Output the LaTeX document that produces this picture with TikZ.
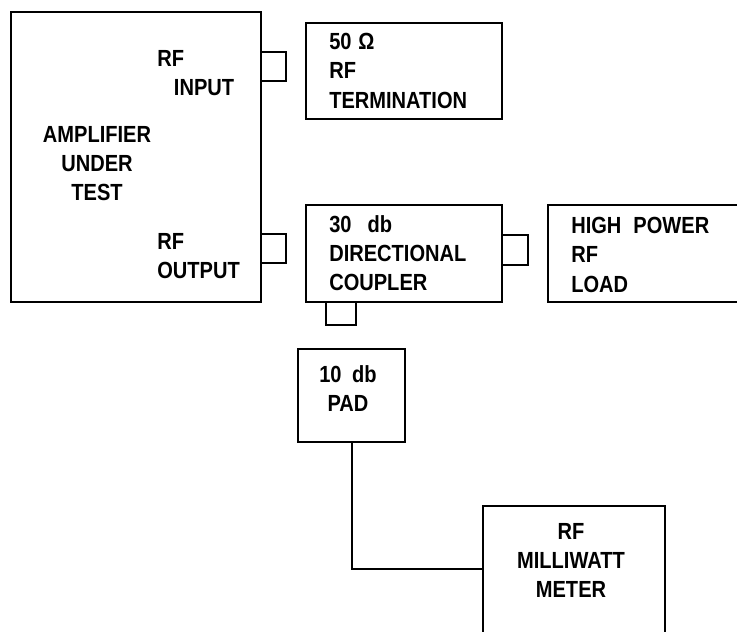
\documentclass[tikz,border=0pt]{standalone}
\usepackage{fontspec}
\setmainfont[FakeStretch=0.86]{Liberation Sans}
\usetikzlibrary{fit}
\begin{document}
\begin{tikzpicture}[x=0.75pt,y=-0.75pt,
  box/.style={draw,line width=1.5pt,inner sep=0pt},
  conn/.style={draw,line width=1.5pt,inner sep=0pt},
  lbl/.style={inner sep=0pt,font=\fontsize{17.5}{22}\selectfont\bfseries},
  wire/.style={line width=1.5pt}]
\useasboundingbox (0,0) rectangle (737,631);
\clip (0,0) rectangle (737,631);
% boxes
\node[box,fit={(11,12) (261,302)}] (amp) {};
\node[box,fit={(306,23) (502,119)}] (term) {};
\node[box,fit={(306,205) (502,302)}] (coup) {};
\node[box,fit={(548,205) (760,302)}] (load) {};
\node[box,fit={(298,349) (405,442)}] (pad) {};
\node[box,fit={(483,506) (665,680)}] (meter) {};
% connectors
\node[conn,fit={(261,52) (286,81)}] (cin) {};
\node[conn,fit={(261,234) (286,263)}] (cout) {};
\node[conn,fit={(502,235) (528,265)}] (cload) {};
\node[conn,fit={(326,302) (356,325)}] (ccoup) {};
% labels
\node[lbl,align=center,anchor=north] (ampl) at (97,126) {AMPLIFIER\\UNDER\\TEST};
\node[lbl,align=left,anchor=north west] (inl) at (157,50) {RF\\\hspace*{12.5pt}INPUT};
\node[lbl,align=left,anchor=north west] (outl) at (157,233) {RF\\OUTPUT};
\node[lbl,align=left,anchor=north west] (terml) at (329,33) {50\hspace{5pt}Ω\\RF\\TERMINATION};
\node[lbl,align=left,anchor=north west] (coupl) at (329,215) {30\hspace{12pt}db\\DIRECTIONAL\\COUPLER};
\node[lbl,align=left,anchor=north west] (loadl) at (571,217) {HIGH\hspace{9pt}POWER\\RF\\LOAD};
\node[lbl,align=center,anchor=north] (padl) at (348,365) {10\hspace{8pt}db\\PAD};
\node[lbl,align=center,anchor=north] (meterl) at (571,523) {RF\\MILLIWATT\\METER};
% wire
\coordinate (lvl) at (0,569);
\draw[wire] (pad.south) |- (meter.west |- lvl);
\end{tikzpicture}
\end{document}
